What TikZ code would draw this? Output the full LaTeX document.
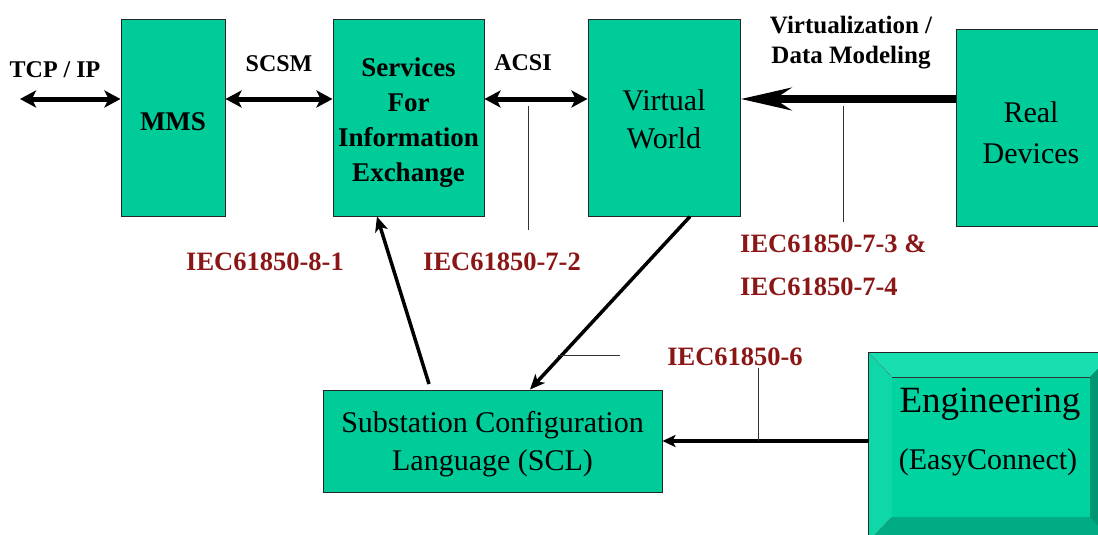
\documentclass[tikz,border=0pt]{standalone}
\usepackage{fontspec}
\setmainfont{Liberation Serif}
\usetikzlibrary{arrows.meta}
\definecolor{boxfill}{RGB}{0,204,153}
\definecolor{labred}{RGB}{138,22,22}
\definecolor{bevtop}{RGB}{24,222,176}
\definecolor{bevleft}{RGB}{14,216,168}
\definecolor{bevface}{RGB}{0,210,160}
\definecolor{bevbot}{RGB}{0,172,132}
\definecolor{bevright}{RGB}{0,150,114}
\begin{document}
\begin{tikzpicture}[x=1pt,y=-1pt,
  box/.style={draw=black!85, line width=1pt, fill=boxfill, inner sep=0pt},
  boldtxt/.style={font=\fontsize{27}{35}\selectfont\bfseries, inner sep=0pt, align=center},
  regtxt/.style={font=\fontsize{30}{38}\selectfont, inner sep=0pt, align=center},
  lab/.style={font=\fontsize{24}{30}\selectfont\bfseries, inner sep=0pt, align=center},
  iec/.style={font=\fontsize{26.5}{30}\selectfont\bfseries, text=labred, inner sep=0pt},
  dbl/.style={line width=5pt, <->, >={Stealth[length=16pt,width=17pt,inset=4pt]}},
  big/.style={line width=8.5pt, ->, >={Stealth[length=50pt,width=22pt,inset=16pt]}},
  diag/.style={line width=3.5pt, ->, >={Stealth[length=15pt,width=13pt,inset=4pt]}},
  engarr/.style={line width=3.5pt, ->, >={Stealth[length=13pt,width=12pt,inset=3pt]}},
  tick/.style={line width=1pt, draw=black!80}
]
\useasboundingbox (0,0) rectangle (1098,535);

% main boxes
\node[box, minimum width=104pt, minimum height=196pt] (mms) at (173,118) {};
\node[boldtxt] (mmst) at (173,122) {MMS};
\node[box, minimum width=151pt, minimum height=196pt] (svc) at (408.5,118) {};
\node[boldtxt] (svct) at (408.5,123) {Services\\For\\Information\\Exchange};
\node[box, minimum width=152pt, minimum height=196pt] (vw) at (664,118) {};
\node[regtxt] (vwt) at (664,119) {Virtual\\World};
\node[box, minimum width=150pt, minimum height=196pt] (rd) at (1031,128) {};
\node[regtxt, font=\fontsize{30}{41}\selectfont] (rdt) at (1031,133) {Real\\Devices};
\node[box, minimum width=339pt, minimum height=102pt] (scl) at (492.5,441) {};
\node[regtxt] (sclt) at (492.5,444) {Substation Configuration\\Language (SCL)};

% engineering bevelled box
\node[draw=black!85, line width=1pt, fill=bevface, inner sep=0pt, minimum width=244pt, minimum height=188pt] (eng) at (991,447) {};
\coordinate (f1) at (892,377);
\coordinate (f2) at (1090,377);
\coordinate (f3) at (1090,517);
\coordinate (f4) at (892,517);
\fill[bevtop] (eng.north west) -- (eng.north east) -- (f2) -- (f1) -- cycle;
\fill[bevleft] (eng.north west) -- (f1) -- (f4) -- (eng.south west) -- cycle;
\fill[bevbot] (eng.south west) -- (f4) -- (f3) -- (eng.south east) -- cycle;
\fill[bevright] (eng.north east) -- (f2) -- (f3) -- (eng.south east) -- cycle;
\draw[black!60, densely dotted, line width=0.6pt] (eng.north west) -- (f1) (eng.south west) -- (f4);
\draw[black!80, line width=1pt] (f1) -- (f2);
\draw[black!85, line width=1pt] (eng.north west) rectangle (eng.south east);
\node[anchor=base, inner sep=0pt, font=\fontsize{37}{40}\selectfont] (engt1) at (990,412) {Engineering};
\node[anchor=base, inner sep=0pt, font=\fontsize{30}{34}\selectfont] (engt2) at (988,469) {(EasyConnect)};

% row of horizontal arrows
\coordinate (row) at (0,99);
\coordinate (tcp) at (20,99);
\draw[dbl] (tcp) -- (mms.west |- row);
\draw[dbl] (mms.east |- row) -- (svc.west |- row);
\draw[dbl] (svc.east |- row) -- (vw.west |- row);
\draw[big] (rd.west |- row) -- (vw.east |- row);

% diagonal arrows
\coordinate (a1s) at (429,384);
\draw[diag] (a1s) -- ([xshift=-31.5pt]svc.south);
\draw[diag] ([xshift=26pt]vw.south) -- ([xshift=37.5pt]scl.north);
\draw[engarr] (eng.west |- scl.east) -- (scl.east);

% leader ticks
\coordinate (t1a) at (528,106);
\coordinate (t1b) at (528,230);
\coordinate (t2a) at (843,106);
\coordinate (t2b) at (843,222);
\coordinate (t3a) at (558,355);
\coordinate (t3b) at (620,355);
\coordinate (t4a) at (758,368);
\draw[tick] (t1a) -- (t1b);
\draw[tick] (t2a) -- (t2b);
\draw[tick] (t3a) -- (t3b);
\draw[tick] (t4a) -- (t4a |- scl.east);

% labels
\node[lab] (ltcp) at (55,70) {TCP / IP};
\node[lab] (lscsm) at (279,64) {SCSM};
\node[lab] (lacsi) at (523,63) {ACSI};
\node[lab, font=\fontsize{25}{30}\selectfont\bfseries] (lvirt) at (851,43) {Virtualization /\\Data Modeling};
\node[iec] (l81) at (265,262) {IEC61850-8-1};
\node[iec] (l72) at (502,262) {IEC61850-7-2};
\node[iec, anchor=west] (l73) at (740,244) {IEC61850-7-3 \&};
\node[iec, anchor=west] (l74) at (740,287) {IEC61850-7-4};
\node[iec] (l6) at (735,357) {IEC61850-6};
\end{tikzpicture}
\end{document}
